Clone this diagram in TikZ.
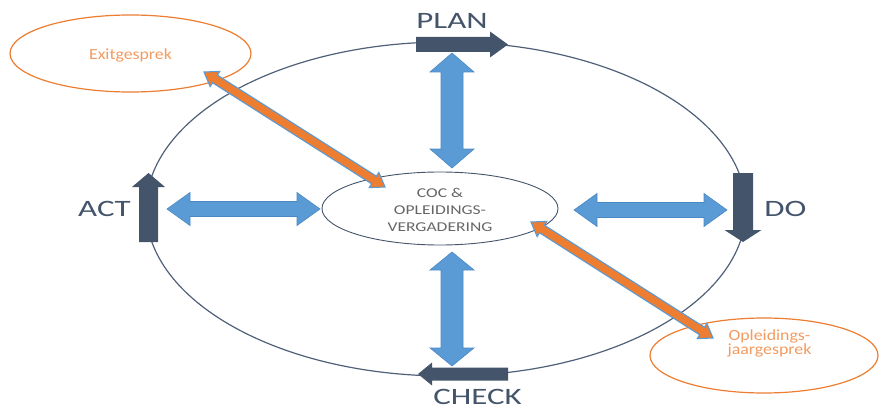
\documentclass[tikz,border=0pt]{standalone}
\usepackage{fontspec}
\setmainfont{Carlito}
\usepackage{graphicx}
\usetikzlibrary{calc,shapes.geometric}
\definecolor{slate}{HTML}{44546A}
\definecolor{ringc}{HTML}{4F6078}
\definecolor{bluef}{HTML}{5B9BD5}
\definecolor{blued}{HTML}{4A88C4}
\definecolor{orangef}{HTML}{ED7D31}
\definecolor{orangetxt}{HTML}{F29B60}
\definecolor{graytxt}{HTML}{666666}
\newcommand{\sx}[2]{\scalebox{#1}[1]{#2}}
% double-headed block arrow: style, A, B, half shaft, half head, head length
\newcommand{\dblarrow}[6]{%
  \draw[#1] (#2) -- ($(#2)!#6!(#3)!#5!90:(#3)$) -- ($(#2)!#6!(#3)!#4!90:(#3)$)
    -- ($(#3)!#6!(#2)!#4!-90:(#2)$) -- ($(#3)!#6!(#2)!#5!-90:(#2)$) -- (#3)
    -- ($(#3)!#6!(#2)!#5!90:(#2)$) -- ($(#3)!#6!(#2)!#4!90:(#2)$)
    -- ($(#2)!#6!(#3)!#4!-90:(#3)$) -- ($(#2)!#6!(#3)!#5!-90:(#3)$) -- cycle;}
% single block arrow from tail A to tip B
\newcommand{\sglarrow}[6]{%
  \draw[#1] ($(#2)!#4!90:(#3)$) -- ($(#3)!#6!(#2)!#4!-90:(#2)$)
    -- ($(#3)!#6!(#2)!#5!-90:(#2)$) -- (#3) -- ($(#3)!#6!(#2)!#5!90:(#2)$)
    -- ($(#3)!#6!(#2)!#4!90:(#2)$) -- ($(#2)!#4!-90:(#3)$) -- cycle;}
\tikzset{
  ring/.style={ellipse, draw=ringc, line width=1.2pt, inner sep=0pt},
  oring/.style={ellipse, draw=orangef, line width=1.2pt, inner sep=0pt},
  cring/.style={ellipse, draw=slate, line width=0.9pt, inner sep=0pt},
  bigtxt/.style={text=slate, font=\fontsize{23.5}{28}\selectfont, inner sep=0pt},
  ctxt/.style={text=graytxt, font=\fontsize{13.5}{17}\selectfont, align=center, inner sep=0pt},
  otxt/.style={text=orangetxt, font=\fontsize{15.5}{14.5}\selectfont, align=center, inner sep=0pt},
  darkarrow/.style={fill=slate, draw=none},
  bluearrow/.style={fill=bluef, draw=blued, line width=0.6pt, line join=miter},
  orangearrow/.style={fill=orangef, draw=bluef, line width=1.1pt, line join=miter},
}
\begin{document}
\begin{tikzpicture}[x=1pt,y=-1pt]
\useasboundingbox (0,0) rectangle (880,409);
% ellipses
\node[ring, minimum width=600pt, minimum height=334pt] (cyc) at (446,209) {};
\node[oring, minimum width=241pt, minimum height=77pt] (exit) at (130.5,53.5) {};
\node[oring, minimum width=228pt, minimum height=75pt] (jaar) at (764,355.5) {};
\node[cring, minimum width=236pt, minimum height=73pt] (coc) at (440,208.5) {};
% texts
\node[ctxt] (coctext) at (440,210.3) {\sx{1.3}{COC \&}\\\sx{1.3}{OPLEIDINGS-}\\\sx{1.3}{VERGADERING}};
\node[otxt, anchor=base] (exittext) at (130.5,60) {\sx{1.15}{Exitgesprek}};
\node[otxt, anchor=base] (jaartext) at (769.5,354.5) {\sx{1.15}{Opleidings-}\\\sx{1.15}{jaargesprek}};
\node[bigtxt] (plan) at (452,20.5) {\sx{1.4}{PLAN}};
\node[bigtxt] (check) at (477.5,396.5) {\sx{1.4}{CHECK}};
\node[bigtxt] (act) at (104.5,208.5) {\sx{1.4}{ACT}};
\node[bigtxt] (do) at (785.5,208.5) {\sx{1.4}{DO}};
% arrow end points
\coordinate (planA) at (416,44.5);  \coordinate (planB) at (508,44.5);
\coordinate (checkA) at (508,374);  \coordinate (checkB) at (418,374);
\coordinate (actA) at (148.5,242);  \coordinate (actB) at (148.5,173);
\coordinate (doA) at (743,173);     \coordinate (doB) at (743,242);
\coordinate (vtA) at (452,53);      \coordinate (vtB) at (452,168);
\coordinate (vbA) at (452,252);     \coordinate (vbB) at (452,366);
\coordinate (hlA) at (167,209);     \coordinate (hlB) at (320,209);
\coordinate (hrA) at (574,210);     \coordinate (hrB) at (727,210);
\coordinate (ouA) at (204,72);      \coordinate (ouB) at (385,187);
\coordinate (olA) at (531,222);     \coordinate (olB) at (713,338);
% dark cycle arrows
\sglarrow{darkarrow}{planA}{planB}{7.5pt}{13pt}{18pt}
\sglarrow{darkarrow}{checkA}{checkB}{6.5pt}{11.5pt}{14pt}
\sglarrow{darkarrow}{actA}{actB}{9.5pt}{16.5pt}{14pt}
\sglarrow{darkarrow}{doA}{doB}{10pt}{18.5pt}{12pt}
% blue double arrows
\dblarrow{bluearrow}{vtA}{vtB}{11pt}{22pt}{19pt}
\dblarrow{bluearrow}{vbA}{vbB}{11pt}{22pt}{18pt}
\dblarrow{bluearrow}{hlA}{hlB}{7.5pt}{16.5pt}{23pt}
\dblarrow{bluearrow}{hrA}{hrB}{7.5pt}{16.5pt}{23pt}
% orange double arrows
\dblarrow{orangearrow}{ouA}{ouB}{4.5pt}{9pt}{13pt}
\dblarrow{orangearrow}{olA}{olB}{4.5pt}{9pt}{13pt}
\end{tikzpicture}
\end{document}
